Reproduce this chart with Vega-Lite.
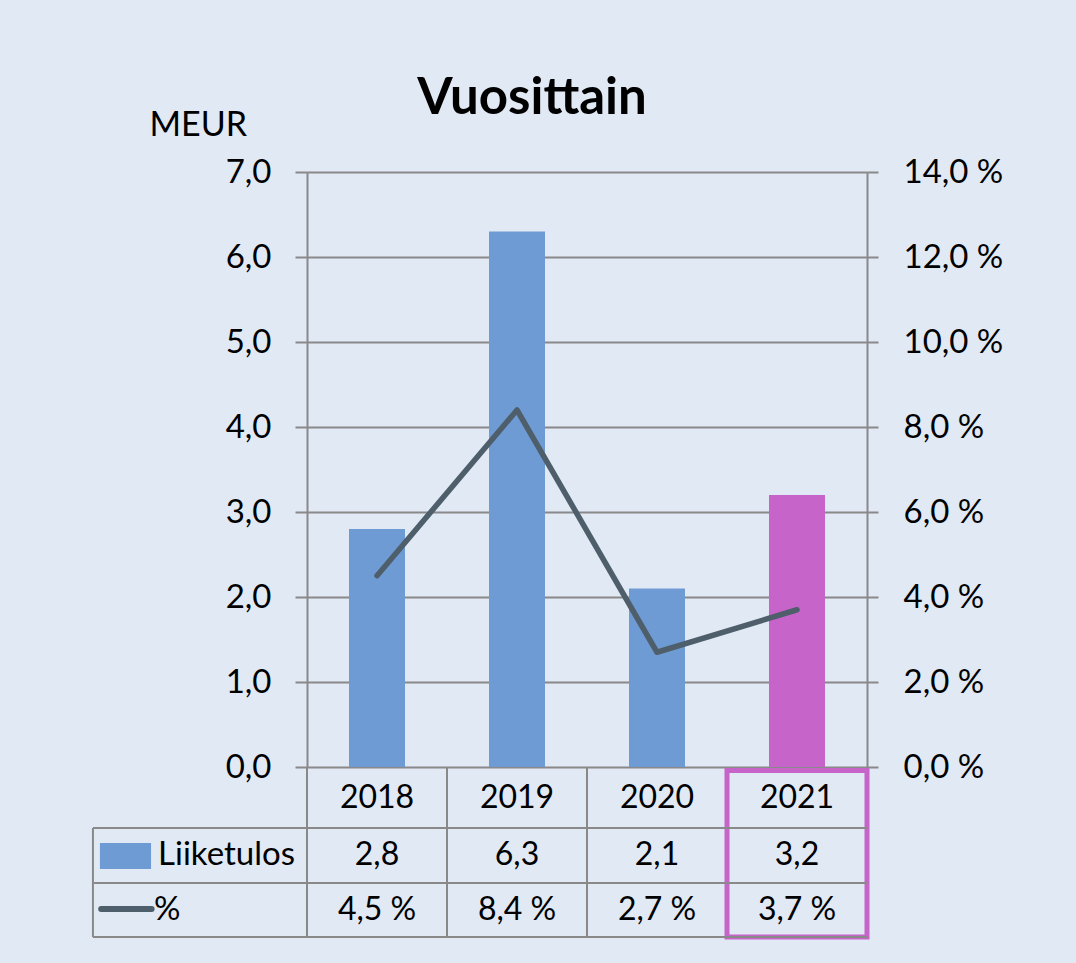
{
  "$schema": "https://vega.github.io/schema/vega-lite/v6.json",
  "width": 560,
  "height": 595,
  "autosize": {"type": "pad"},
  "padding": {"left": 91, "top": 73, "right": 76, "bottom": 24},
  "background": "#E1E9F5",
  "config": {
    "locale": {"number": {"decimal": ",", "thousands": " ", "grouping": [3], "currency": ["", " €"], "percent": " %"}},
    "view": {"stroke": null},
    "font": "Lato"
  },
  "title": {"text": "Vuosittain", "font": "Lato", "fontSize": 51, "fontWeight": "bold", "color": "black", "anchor": "middle", "frame": "group", "dx": -55, "offset": -17},
  "data": {"values": [
    {"year": "2018", "liiketulos": 2.8, "pct": 0.045},
    {"year": "2019", "liiketulos": 6.3, "pct": 0.084},
    {"year": "2020", "liiketulos": 2.1, "pct": 0.027},
    {"year": "2021", "liiketulos": 3.2, "pct": 0.037}
  ]},
  "layer": [
    {
      "layer": [
        {
          "mark": {"type": "bar", "width": {"band": 0.4}},
          "encoding": {
            "x": {"field": "year", "type": "nominal", "scale": {"paddingInner": 0, "paddingOuter": 0}, "axis": null},
            "y": {"field": "liiketulos", "type": "quantitative", "scale": {"domain": [0, 7], "nice": false},
              "axis": {"title": "MEUR", "titleAngle": 0, "titleAlign": "left", "titleBaseline": "alphabetic", "titleX": -158, "titleY": -37,
                "titleFont": "Lato", "titleFontSize": 34, "titleFontWeight": "normal", "titleColor": "black",
                "values": [0, 1, 2, 3, 4, 5, 6, 7], "format": ".1f", "labelFont": "Lato", "labelFontSize": 33, "labelColor": "black",
                "labelPadding": 24, "tickSize": 12, "tickColor": "#898989", "tickWidth": 2, "domainColor": "#898989", "domainWidth": 2,
                "grid": true, "gridColor": "#898989", "gridWidth": 2}},
            "color": {"condition": {"test": "datum.year == '2021'", "value": "#C764C9"}, "value": "#6F9BD4"}
          }
        },
        {
          "mark": {"type": "rule", "color": "#898989", "strokeWidth": 2},
          "encoding": {
            "x": {"field": "year", "type": "nominal", "bandPosition": 0},
            "y": {"datum": 0, "type": "quantitative"},
            "y2": {"datum": -2}
          }
        },
        {
          "mark": {"type": "rule", "color": "#898989", "strokeWidth": 2},
          "encoding": {
            "x": {"field": "year", "type": "nominal", "bandPosition": 1},
            "y": {"datum": 0, "type": "quantitative"},
            "y2": {"datum": -2}
          }
        },
        {
          "mark": {"type": "text", "font": "Lato", "fontSize": 32, "color": "black", "baseline": "middle"},
          "encoding": {
            "x": {"field": "year", "type": "nominal"},
            "y": {"datum": -0.359, "type": "quantitative"},
            "text": {"field": "year"}
          }
        },
        {
          "mark": {"type": "text", "font": "Lato", "fontSize": 32, "color": "black", "baseline": "middle"},
          "encoding": {
            "x": {"field": "year", "type": "nominal"},
            "y": {"datum": -1.041, "type": "quantitative"},
            "text": {"field": "liiketulos", "format": ".1f"}
          }
        },
        {
          "mark": {"type": "text", "font": "Lato", "fontSize": 32, "color": "black", "baseline": "middle"},
          "encoding": {
            "x": {"field": "year", "type": "nominal"},
            "y": {"datum": -1.682, "type": "quantitative"},
            "text": {"field": "pct", "format": ".1%"}
          }
        },
        {
          "transform": [{"filter": "datum.year == '2021'"}],
          "mark": {"type": "rect", "fill": null, "stroke": "#C764C9", "strokeWidth": 5},
          "encoding": {
            "x": {"field": "year", "type": "nominal"},
            "y": {"datum": -0.04, "type": "quantitative"},
            "y2": {"datum": -2}
          }
        }
      ]
    },
    {
      "mark": {"type": "line", "color": "#4E5F6B", "strokeWidth": 5.5, "strokeCap": "round", "strokeJoin": "round"},
      "encoding": {
        "x": {"field": "year", "type": "nominal", "scale": {"paddingInner": 0, "paddingOuter": 0}, "axis": null},
        "y": {"field": "pct", "type": "quantitative", "scale": {"domain": [0, 0.14], "nice": false},
          "axis": {"orient": "right", "title": null, "values": [0, 0.02, 0.04, 0.06, 0.08, 0.1, 0.12, 0.14], "format": ".1%",
            "labelFont": "Lato", "labelFontSize": 33, "labelColor": "black", "labelPadding": 25, "tickSize": 11, "tickColor": "#898989", "tickWidth": 2,
            "domainColor": "#898989", "domainWidth": 2, "grid": false}}
      }
    },
    {
      "data": {"values": [{}]},
      "layer": [
        {
          "mark": {"type": "rule", "color": "#898989", "strokeWidth": 2},
          "encoding": {
            "x": {"datum": -1.529, "type": "quantitative", "scale": {"domain": [0, 4], "nice": false, "zero": false}, "axis": null},
            "x2": {"datum": 4},
            "y": {"datum": -0.718, "type": "quantitative", "scale": {"domain": [0, 7], "nice": false}, "axis": null}
          }
        },
        {
          "mark": {"type": "rule", "color": "#898989", "strokeWidth": 2},
          "encoding": {
            "x": {"datum": -1.529, "type": "quantitative"},
            "x2": {"datum": 4},
            "y": {"datum": -1.365, "type": "quantitative"}
          }
        },
        {
          "mark": {"type": "rule", "color": "#898989", "strokeWidth": 2},
          "encoding": {
            "x": {"datum": -1.529, "type": "quantitative"},
            "x2": {"datum": 4},
            "y": {"datum": -2, "type": "quantitative"}
          }
        },
        {
          "mark": {"type": "rule", "color": "#898989", "strokeWidth": 2},
          "encoding": {
            "x": {"datum": -1.529, "type": "quantitative"},
            "y": {"datum": -0.718, "type": "quantitative"},
            "y2": {"datum": -2}
          }
        },
        {
          "mark": {"type": "rect", "color": "#6F9BD4"},
          "encoding": {
            "x": {"datum": -1.479, "type": "quantitative"},
            "x2": {"datum": -1.114},
            "y": {"datum": -0.894, "type": "quantitative"},
            "y2": {"datum": -1.2}
          }
        },
        {
          "mark": {"type": "rule", "color": "#4E5F6B", "strokeWidth": 6, "strokeCap": "round"},
          "encoding": {
            "x": {"datum": -1.47, "type": "quantitative"},
            "x2": {"datum": -1.11},
            "y": {"datum": -1.671, "type": "quantitative"}
          }
        },
        {
          "data": {"values": [{"series": "Liiketulos"}]},
          "mark": {"type": "text", "font": "Lato", "fontSize": 33, "color": "black", "baseline": "middle", "align": "left"},
          "encoding": {
            "x": {"datum": -1.064, "type": "quantitative"},
            "y": {"datum": -1.041, "type": "quantitative"},
            "text": {"field": "series"}
          }
        },
        {
          "data": {"values": [{"series": "%"}]},
          "mark": {"type": "text", "font": "Lato", "fontSize": 33, "color": "black", "baseline": "middle", "align": "left"},
          "encoding": {
            "x": {"datum": -1.093, "type": "quantitative"},
            "y": {"datum": -1.682, "type": "quantitative"},
            "text": {"field": "series"}
          }
        }
      ]
    }
  ],
  "resolve": {"scale": {"x": "independent", "y": "independent"}, "axis": {"x": "independent", "y": "independent"}}
}
